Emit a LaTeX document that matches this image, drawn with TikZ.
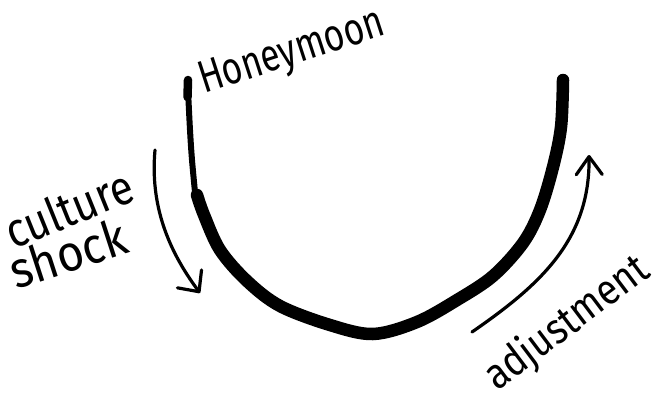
\documentclass[tikz,border=0pt]{standalone}
\usepackage{fontspec}
\setmainfont{Fira Sans}
\usetikzlibrary{arrows.meta}
\begin{document}
\begin{tikzpicture}[x=1pt,y=-1pt,
  lbl/.style={inner sep=0pt, anchor=base west, text=black},
  thinarrow/.style={line width=3.2pt, line cap=round, -{Straight Barb[length=16pt,width=30pt,line width=3.2pt,round]}},
  curvestroke/.style={line cap=round, line join=round, draw=black}]
\useasboundingbox (0,0) rectangle (663,402);
\fill[white] (0,0) rectangle (663,402);
% main U curve
\draw[curvestroke, line width=8.5pt] (188,80) -- (187.5,97);
\draw[curvestroke, line width=6pt] plot[smooth, tension=0.6] coordinates {(188,90) (190,130) (192,160) (195,192)};
\draw[curvestroke, line width=12.5pt] plot[smooth, tension=0.55] coordinates {
 (197,195) (204,215) (220,250) (247,281) (280,306) (330,325) (373,334)
 (417,322) (457,300) (493,276) (523,243) (540,210) (553,167) (561,127) (563,80)};
% arrows
\coordinate (csA) at (155,150);
\coordinate (csB) at (200,293);
\draw[thinarrow] (csA) .. controls (150,205) and (168,250) .. (csB);
\coordinate (adA) at (472,332);
\coordinate (adB) at (589,155);
\draw[thinarrow, -{Straight Barb[length=18pt,width=26pt,line width=3.2pt,round]}] (adA) .. controls (540,285) and (590,240) .. (adB);
% labels
\node[lbl, rotate=18, yscale=1.3, font=\fontsize{35}{40}\selectfont] (honey) at (204,94) {Honeymoon};
\node[lbl, rotate=22, yscale=1.15, font=\fontsize{42}{48}\selectfont] (culture) at (13,250) {culture};
\node[lbl, rotate=18, yscale=1.1, font=\fontsize{46}{52}\selectfont] (shock) at (16,290) {shock};
\node[lbl, rotate=37, yscale=1.15, font=\fontsize{37.5}{44}\selectfont] (adjust) at (497,392) {adjustment};
\end{tikzpicture}
\end{document}
